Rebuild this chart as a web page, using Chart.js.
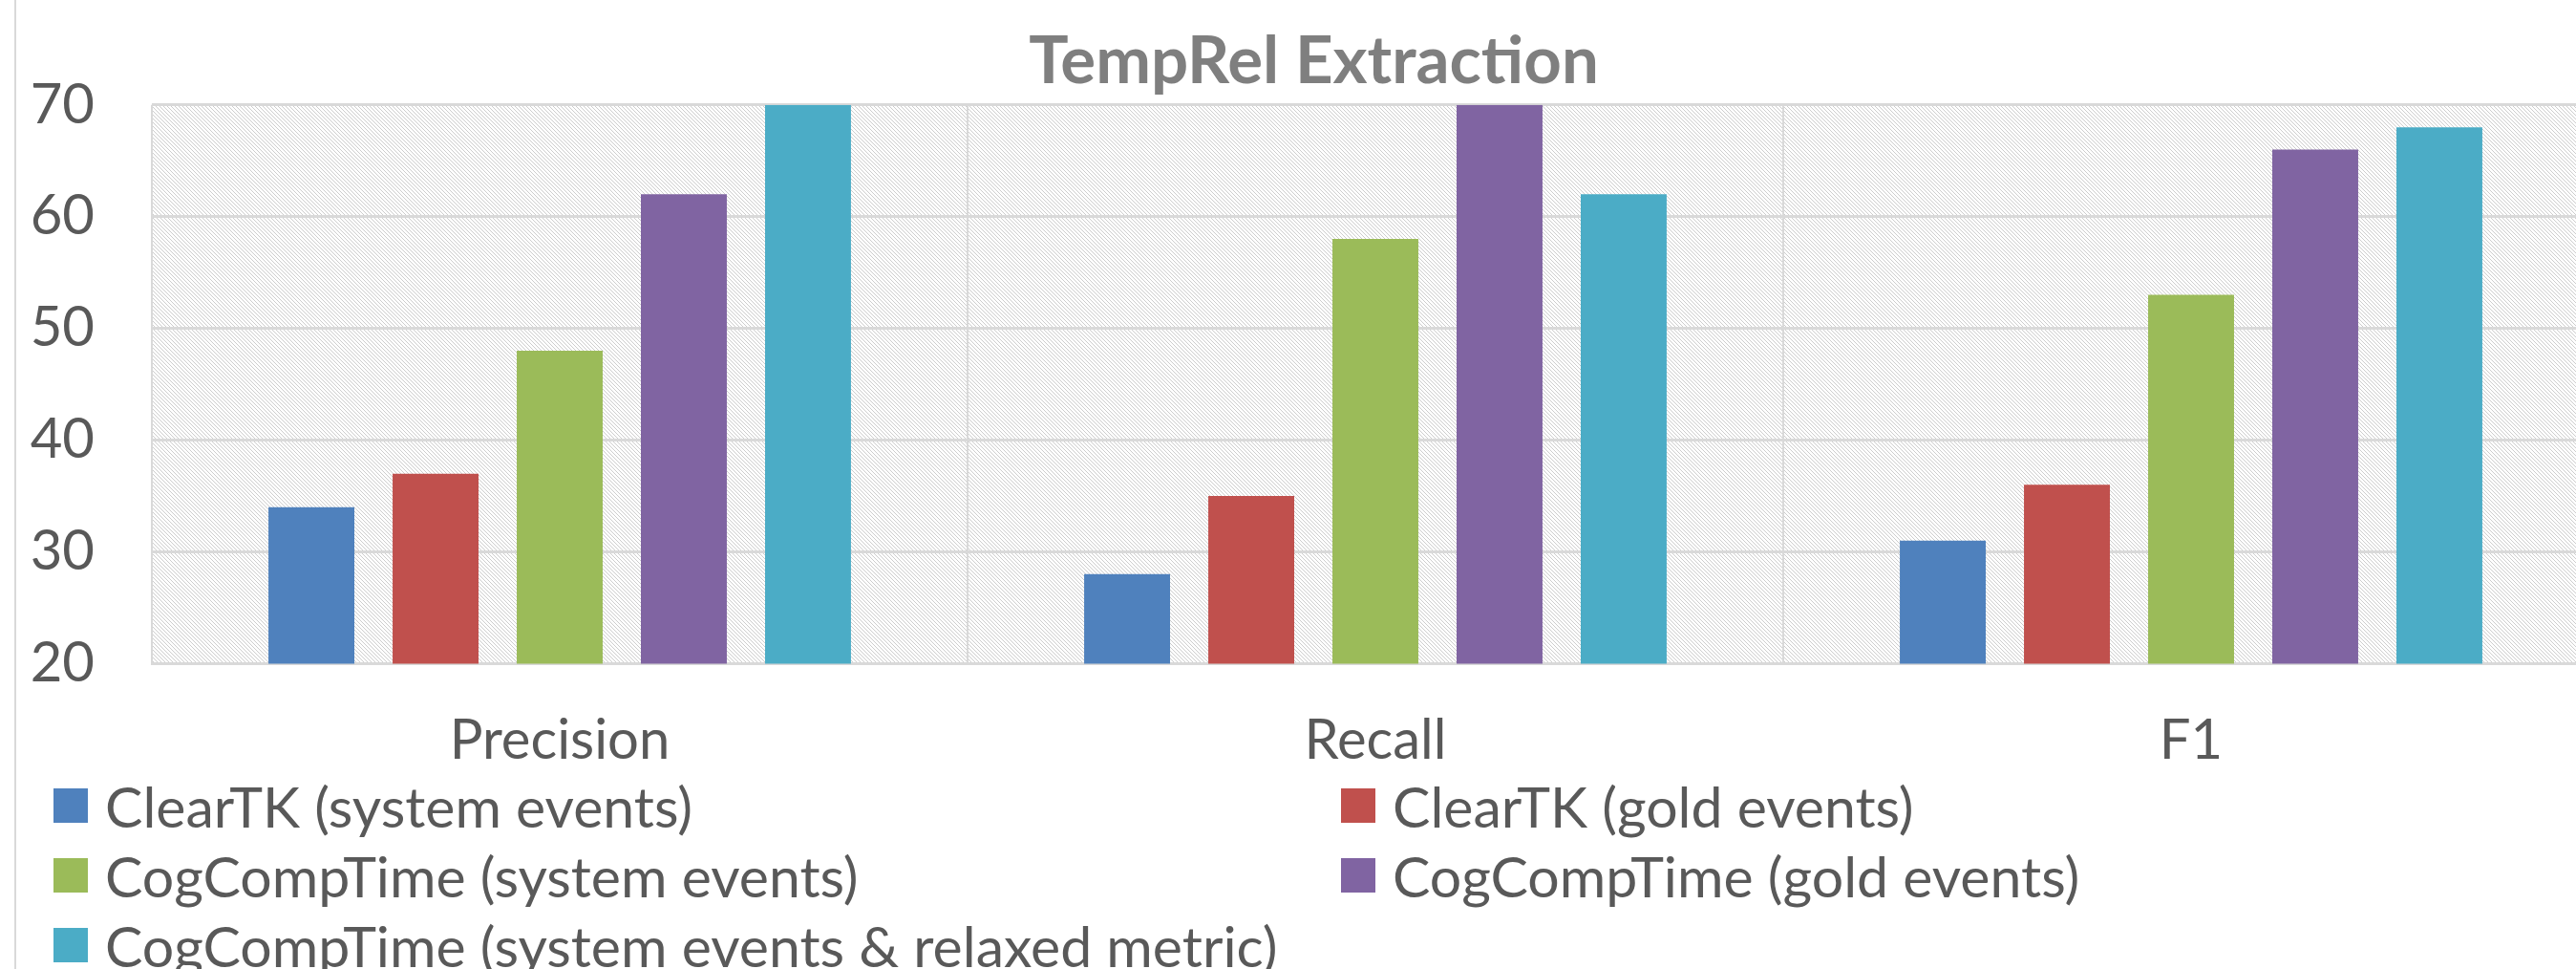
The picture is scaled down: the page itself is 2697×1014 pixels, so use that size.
<!DOCTYPE html>
<html>
<head>
<meta charset="utf-8">
<script src="https://cdn.jsdelivr.net/npm/chart.js@4/dist/chart.umd.min.js"></script>
<style>
  html, body { margin: 0; padding: 0; background: #ffffff; overflow: hidden; width: 2697px; height: 1014px; }
  #wrap { position: absolute; left: 0; top: 0; width: 2768px; height: 1014px; }
  #frame { position: absolute; left: 15px; top: 0; width: 2px; height: 1014px; background: #d9d9d9; }
  #legend { position: absolute; left: 0; top: 0; width: 2697px; height: 1014px; pointer-events: none;
            font-family: Lato, "Open Sans", sans-serif; font-size: 59px; color: #595959; }
  .item { position: absolute; display: flex; align-items: center; height: 60px; white-space: nowrap; }
  .box { display: inline-block; width: 36px; height: 36px; margin-right: 18px; }
</style>
</head>
<body>
<div id="wrap"><canvas id="c" width="2768" height="1014"></canvas></div>
<div id="frame"></div>
<div id="legend"></div>
<script>
// ---- data ----
const categories = ['Precision', 'Recall', 'F1'];
const seriesNames = [
  'ClearTK (system events)',
  'ClearTK (gold events)',
  'CogCompTime (system events)',
  'CogCompTime (gold events)',
  'CogCompTime (system events & relaxed metric)'
];
const clearTKSystem = [34, 28, 31];
const clearTKGold = [37, 35, 36];
const cogCompSystem = [48, 58, 53];
const cogCompGold = [62, 70, 66];
const cogCompRelaxed = [70, 62, 68];
const yTicks = [20, 30, 40, 50, 60, 70];
const chartTitle = 'TempRel Extraction';

const seriesValues = [clearTKSystem, clearTKGold, cogCompSystem, cogCompGold, cogCompRelaxed];
const seriesColors = ['#4F81BD', '#C0504D', '#9BBB59', '#8064A2', '#4BACC6'];

// hatched plot background
const tile = document.createElement('canvas');
tile.width = 4; tile.height = 4;
const tctx = tile.getContext('2d');
tctx.fillStyle = '#ffffff'; tctx.fillRect(0, 0, 4, 4);
tctx.fillStyle = '#cdcdcd';
for (let i = 0; i < 4; i++) tctx.fillRect(i, i, 1, 1);

const bgPlugin = {
  id: 'plotBg',
  beforeDraw(chart) {
    const { ctx, chartArea: a } = chart;
    ctx.save();
    ctx.fillStyle = ctx.createPattern(tile, 'repeat');
    ctx.fillRect(a.left, a.top, a.right - a.left, a.bottom - a.top);
    ctx.restore();
  }
};

const chart = new Chart(document.getElementById('c'), {
  type: 'bar',
  data: {
    labels: categories,
    datasets: seriesNames.map((n, i) => ({
      label: n,
      data: seriesValues[i],
      backgroundColor: seriesColors[i],
      borderWidth: 0,
      categoryPercentage: 0.761,
      barPercentage: 0.692
    }))
  },
  plugins: [bgPlugin],
  options: {
    responsive: false,
    animation: false,
    devicePixelRatio: 1,
    layout: { padding: { left: 30, right: 47, top: 0, bottom: 158 } },
    plugins: {
      legend: { display: false },
      tooltip: { enabled: false },
      title: {
        display: true,
        text: chartTitle,
        color: '#7f7f7f',
        font: { family: 'Lato', size: 69, weight: 'bold' },
        padding: { top: 23, bottom: 4 }
      }
    },
    scales: {
      x: {
        grid: { offset: true, color: '#d9d9d9', lineWidth: 2, drawTicks: false },
        border: { color: '#d9d9d9', width: 3 },
        ticks: { color: '#595959', font: { family: 'Lato', size: 58 }, padding: 46 }
      },
      y: {
        min: 20, max: 70,
        afterBuildTicks(scale) { scale.ticks = yTicks.map(v => ({ value: v })); },
        afterFit(scale) { scale.width = 129; },
        grid: { color: '#d9d9d9', lineWidth: 3, drawTicks: false },
        border: { display: false },
        ticks: { color: '#595959', font: { family: 'Lato', size: 58 }, padding: 60 }
      }
    }
  }
});

// legend built from the chart's datasets, two columns
const legendPos = [
  [56, 813], [1404, 813],
  [56, 886], [1404, 886],
  [56, 959]
];
const leg = document.getElementById('legend');
chart.data.datasets.forEach((ds, i) => {
  const d = document.createElement('div');
  d.className = 'item';
  d.style.left = legendPos[i][0] + 'px';
  d.style.top = legendPos[i][1] + 'px';
  const b = document.createElement('span');
  b.className = 'box';
  b.style.background = ds.backgroundColor;
  const t = document.createElement('span');
  t.textContent = ds.label;
  d.appendChild(b); d.appendChild(t);
  leg.appendChild(d);
});
</script>
</body>
</html>
